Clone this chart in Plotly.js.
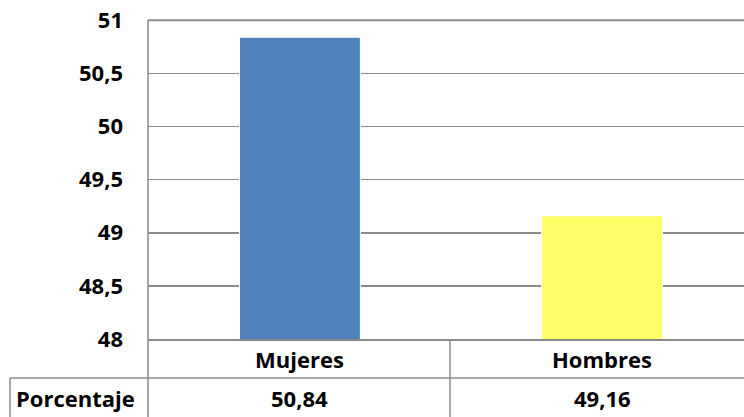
<!DOCTYPE html>
<html>
<head>
<meta charset="utf-8">
<script src="https://cdn.plot.ly/plotly-3.0.1.min.js"></script>
<style>html,body{margin:0;padding:0;background:#fff;}#chart{width:744px;height:417px;}</style>
</head>
<body>
<div id="chart"></div>
<script>
var categories = ['Mujeres', 'Hombres'];
var values = [50.84, 49.16];
var barColors = ['#4F81BD', '#FFFF66'];
var rowLabel = 'Porcentaje';
var yTicks = [48, 48.5, 49, 49.5, 50, 50.5, 51];

var FONT = 'Open Sans, Noto Sans, sans-serif';
var txtFont = {family: FONT, size: 22, color: '#000', weight: 'bold'};
var gridCol = '#8a8a8a';

function fmt(v){ return v.toFixed(2).replace('.', ','); }

var trace = {
  type: 'bar',
  x: [0, 1],
  y: values,
  base: 0,
  width: 0.4,
  marker: {color: barColors, line: {color: '#ffffff', width: 1}},
  hoverinfo: 'skip'
};

// table geometry helpers (paper coords)
var L = 148, T = 16, B = 339, W = 744, H = 417;
var pw = W - L, ph = B - T;
function px(x){ return (x - L) / pw; }
function py(y){ return (B - y) / ph; }

var shapes = [
  {type:'line', xref:'paper', yref:'y', x0:0, x1:1, y0:yTicks[yTicks.length-1], y1:yTicks[yTicks.length-1], layer:'above', line:{color:gridCol, width:2}},
  {type:'line', xref:'paper', yref:'paper', x0:px(L), x1:px(L), y0:py(B), y1:py(H), line:{color:gridCol, width:1.5}},
  {type:'line', xref:'paper', yref:'paper', x0:px(450), x1:px(450), y0:py(B), y1:py(H), line:{color:gridCol, width:1.5}},
  {type:'line', xref:'paper', yref:'paper', x0:px(10), x1:px(10), y0:py(378), y1:py(H), line:{color:gridCol, width:1.5}},
  {type:'line', xref:'paper', yref:'paper', x0:px(10), x1:px(W), y0:py(378), y1:py(378), line:{color:gridCol, width:1.5}}
];

var annotations = [];
categories.forEach(function(c, i){
  annotations.push({x: i, xref:'x', y: py(359), yref:'paper', text: c, showarrow:false, font: txtFont, xanchor:'center', yanchor:'middle'});
  annotations.push({x: i, xref:'x', y: py(398), yref:'paper', text: fmt(values[i]), showarrow:false, font: txtFont, xanchor:'center', yanchor:'middle'});
});
annotations.push({x: px(75), xref:'paper', y: py(398), yref:'paper', text: rowLabel, showarrow:false, font: txtFont, xanchor:'center', yanchor:'middle'});

var layout = {
  width: 744, height: 417,
  margin: {l: L, r: 0, t: T, b: H - B, pad: 0},
  paper_bgcolor: '#ffffff', plot_bgcolor: '#ffffff',
  separators: ',.',
  showlegend: false,
  bargap: 0.6,
  xaxis: {
    range: [-0.503, 1.47],
    showticklabels: false, showgrid: false, zeroline: false,
    showline: true, linecolor: gridCol, linewidth: 1.5, fixedrange: true
  },
  yaxis: {
    range: [48, 51.04],
    tickvals: yTicks,
    tickformat: ',.1~f',
    showgrid: true, gridcolor: gridCol, gridwidth: 1.5,
    zeroline: false, showline: false,
    ticks: '', ticklabelstandoff: 24,
    tickfont: txtFont, fixedrange: true
  },
  shapes: shapes.concat([
    {type:'line', xref:'paper', yref:'y', x0:0, x1:0, y0:48, y1:yTicks[yTicks.length-1], line:{color:gridCol, width:1.5}}
  ]),
  annotations: annotations
};

Plotly.newPlot('chart', [trace], layout, {displayModeBar: false, staticPlot: true});
</script>
</body>
</html>
